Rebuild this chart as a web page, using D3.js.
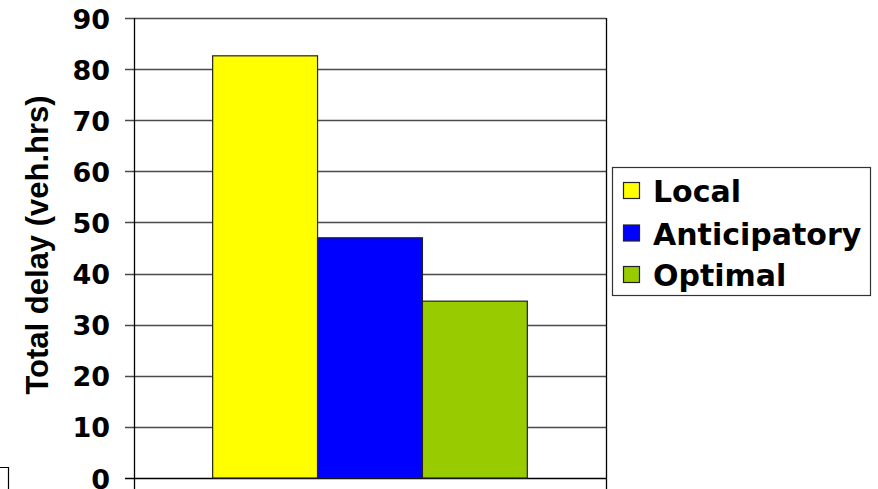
<!DOCTYPE html>
<html>
<head>
<meta charset="utf-8">
<script src="https://cdn.jsdelivr.net/npm/d3@7"></script>
<style>
  html, body { margin: 0; padding: 0; background: #fff; }
  svg { display: block; }
</style>
</head>
<body>
<svg id="chart" width="878" height="489"></svg>
<script>
const categories = [""];
const seriesNames = ["Local", "Anticipatory", "Optimal"];
const seriesValues = [82.6, 47.0, 34.6];
const seriesColors = ["#FFFF00", "#0000FF", "#99CC00"];
const tickValues = [0, 10, 20, 30, 40, 50, 60, 70, 80, 90];
const yTitle = "Total delay (veh.hrs)";

(function () {
const svg = d3.select("#chart");
const pLeft = 134, pRight = 606, pTop = 18, pBottom = 478;

const y = d3.scaleLinear().domain([0, 90]).range([pBottom, pTop]);
const x0 = d3.scaleBand().domain(categories).range([pLeft, pRight]).paddingInner(0).paddingOuter(0.25);
const x1 = d3.scaleBand().domain(seriesNames).range([0, x0.bandwidth()]).padding(0);

svg.append("g").selectAll("line").data(tickValues).join("line")
  .attr("x1", pLeft - 9).attr("x2", pRight)
  .attr("y1", d => Math.round(y(d)) + 0.5).attr("y2", d => Math.round(y(d)) + 0.5)
  .attr("stroke", d => d === 0 ? "#000" : "#4a4a4a").attr("stroke-width", 1.3);

svg.append("g").selectAll("text").data(tickValues).join("text")
  .attr("x", 110).attr("y", d => y(d) + 1)
  .attr("text-anchor", "end").attr("dominant-baseline", "central")
  .attr("font-family", "DejaVu Sans").attr("font-weight", "bold").attr("font-size", 27)
  .attr("fill", "#000").text(d => d);

const g = svg.append("g").attr("transform", `translate(${x0("")},0)`);
g.selectAll("rect").data(seriesNames).join("rect")
  .attr("x", d => x1(d))
  .attr("y", (d, i) => y(seriesValues[i]))
  .attr("width", x1.bandwidth())
  .attr("height", (d, i) => y(0) - y(seriesValues[i]))
  .attr("fill", (d, i) => seriesColors[i])
  .attr("stroke", "#222").attr("stroke-width", 1.2);

svg.append("line").attr("x1", pLeft + 0.5).attr("x2", pLeft + 0.5).attr("y1", pTop).attr("y2", 489)
  .attr("stroke", "#000").attr("stroke-width", 1.3);
svg.append("line").attr("x1", pRight + 0.5).attr("x2", pRight + 0.5).attr("y1", pTop).attr("y2", 489)
  .attr("stroke", "#000").attr("stroke-width", 1.3);

svg.append("text")
  .attr("transform", `translate(48,245) rotate(-90)`)
  .attr("text-anchor", "middle")
  .attr("font-family", "Liberation Sans, Arial, sans-serif").attr("font-weight", "bold").attr("font-size", 31)
  .attr("fill", "#000").text(yTitle);

const lg = svg.append("g");
lg.append("rect").attr("x", 612.5).attr("y", 167.5).attr("width", 258).attr("height", 128)
  .attr("fill", "#fff").attr("stroke", "#333").attr("stroke-width", 1.2);
const rowY = [190.5, 233, 274.5];
seriesNames.forEach((name, i) => {
  lg.append("rect").attr("x", 623.5).attr("y", rowY[i] - 8).attr("width", 16).attr("height", 16)
    .attr("fill", seriesColors[i]).attr("stroke", "#222").attr("stroke-width", 1.2);
  lg.append("text").attr("x", 653).attr("y", rowY[i] + 1)
    .attr("dominant-baseline", "central")
    .attr("font-family", "DejaVu Sans").attr("font-weight", "bold").attr("font-size", 30)
    .attr("fill", "#000").text(name);
});

svg.append("path").attr("d", "M0,467.5 H8.5 V489").attr("fill", "none").attr("stroke", "#000").attr("stroke-width", 1.2);
})();
</script>
</body>
</html>
